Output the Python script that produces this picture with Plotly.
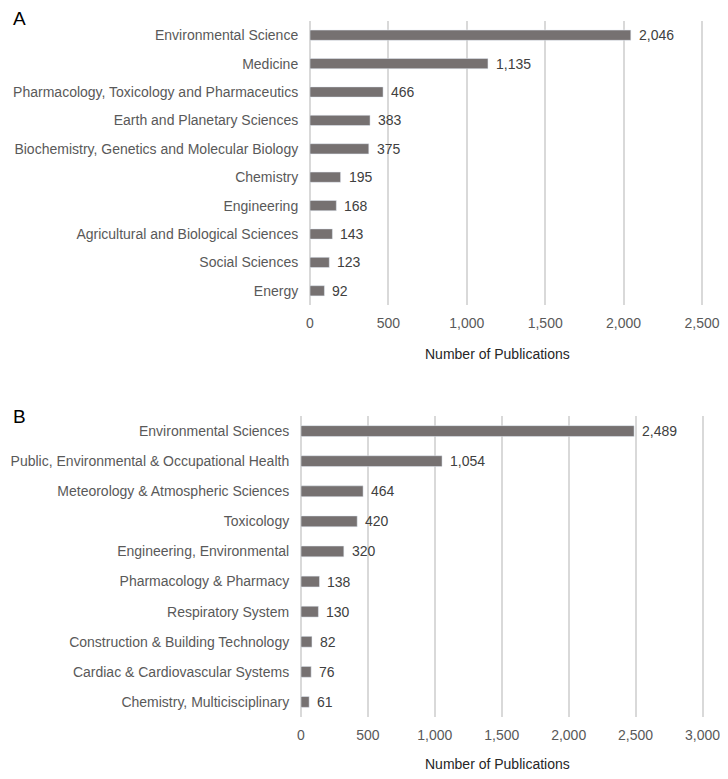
import plotly.graph_objects as go

cats_a = ["Environmental Science", "Medicine", "Pharmacology, Toxicology and Pharmaceutics",
          "Earth and Planetary Sciences", "Biochemistry, Genetics and Molecular Biology",
          "Chemistry", "Engineering", "Agricultural and Biological Sciences",
          "Social Sciences", "Energy"]
vals_a = [2046, 1135, 466, 383, 375, 195, 168, 143, 123, 92]

cats_b = ["Environmental Sciences", "Public, Environmental & Occupational Health",
          "Meteorology & Atmospheric Sciences", "Toxicology", "Engineering, Environmental",
          "Pharmacology & Pharmacy", "Respiratory System", "Construction & Building Technology",
          "Cardiac & Cardiovascular Systems", "Chemistry, Multicisciplinary"]
vals_b = [2489, 1054, 464, 420, 320, 138, 130, 82, 76, 61]

# page body has a default 8px margin; the figure fills the rest
PAGE_W, PAGE_H = 728, 779
OFF = 8
W, H = PAGE_W - 2 * OFF, PAGE_H - 2 * OFF
BAR = "#767171"
TXT = "#595959"
GRID = "#d9d9d9"
FONT = "Liberation Sans, Arial, sans-serif"
FS = 14

def px(x):
    return (x - OFF) / W

def py(y):
    return 1 - (y - OFF) / H

fig = go.Figure()
annotations = []
for vals, cats, xa, ya in [(vals_a, cats_a, "x", "y"), (vals_b, cats_b, "x2", "y2")]:
    fig.add_trace(go.Bar(x=vals, y=cats, orientation="h", marker_color=BAR,
                         cliponaxis=False, xaxis=xa, yaxis=ya, width=0.36,
                         hovertemplate="%{y}: %{x:,}<extra></extra>"))
    for v, c in zip(vals, cats):
        annotations.append(dict(text=f"{v:,}", x=v, y=c, xref=xa, yref=ya,
                                showarrow=False, xanchor="left", yanchor="middle",
                                xshift=6, font=dict(size=FS, color="#404040", family=FONT)))

common_x = dict(showgrid=True, gridcolor=GRID, gridwidth=1.5,
                zeroline=True, zerolinecolor=GRID, zerolinewidth=1.5,
                tickformat=",", tickfont=dict(size=FS, color=TXT, family=FONT),
                ticks="outside", ticklen=5, tickcolor="rgba(0,0,0,0)", showline=False,
                automargin=False, fixedrange=True, tickmode="linear", tick0=0,
                ticklabeloverflow="allow")
common_y = dict(autorange="reversed", tickfont=dict(size=FS, color=TXT, family=FONT),
                ticks="outside", ticklen=8, tickcolor="rgba(0,0,0,0)", showgrid=False,
                showline=False, zeroline=False, automargin=False)

annotations += [
    dict(text="A", x=px(11), y=py(18), xref="paper", yref="paper", showarrow=False,
         xanchor="left", yanchor="middle", font=dict(size=19, color="#000000", family=FONT)),
    dict(text="B", x=px(11), y=py(416), xref="paper", yref="paper", showarrow=False,
         xanchor="left", yanchor="middle", font=dict(size=19, color="#000000", family=FONT)),
    dict(text="Number of Publications", x=px(497), y=py(354), xref="paper", yref="paper",
         showarrow=False, xanchor="center", yanchor="middle",
         font=dict(size=FS, color="#262626", family=FONT)),
    dict(text="Number of Publications", x=px(497), y=py(764), xref="paper", yref="paper",
         showarrow=False, xanchor="center", yanchor="middle",
         font=dict(size=FS, color="#262626", family=FONT)),
]

# axis pixel extents (0 at left edge, last tick at the right)
A0, A1, AMAX = 310, 702, 2500
B0, B1, BMAX = 301, 702.5, 3000
EXT = 1.006

fig.update_layout(
    width=W, height=H, margin=dict(l=0, r=0, t=0, b=0, autoexpand=False),
    paper_bgcolor="white", plot_bgcolor="white", showlegend=False,
    font=dict(family=FONT, color=TXT),
    xaxis=dict(domain=[px(A0), px(A0 + (A1 - A0) * EXT)], range=[0, AMAX * EXT], dtick=500,
               anchor="y", **common_x),
    yaxis=dict(domain=[py(305), py(21)], anchor="x", **common_y),
    xaxis2=dict(domain=[px(B0), px(B0 + (B1 - B0) * EXT)], range=[0, BMAX * EXT], dtick=500,
                anchor="y2", **common_x),
    yaxis2=dict(domain=[py(717), py(416)], anchor="x2", **common_y),
    annotations=annotations,
)

fig.write_html("out.html")
